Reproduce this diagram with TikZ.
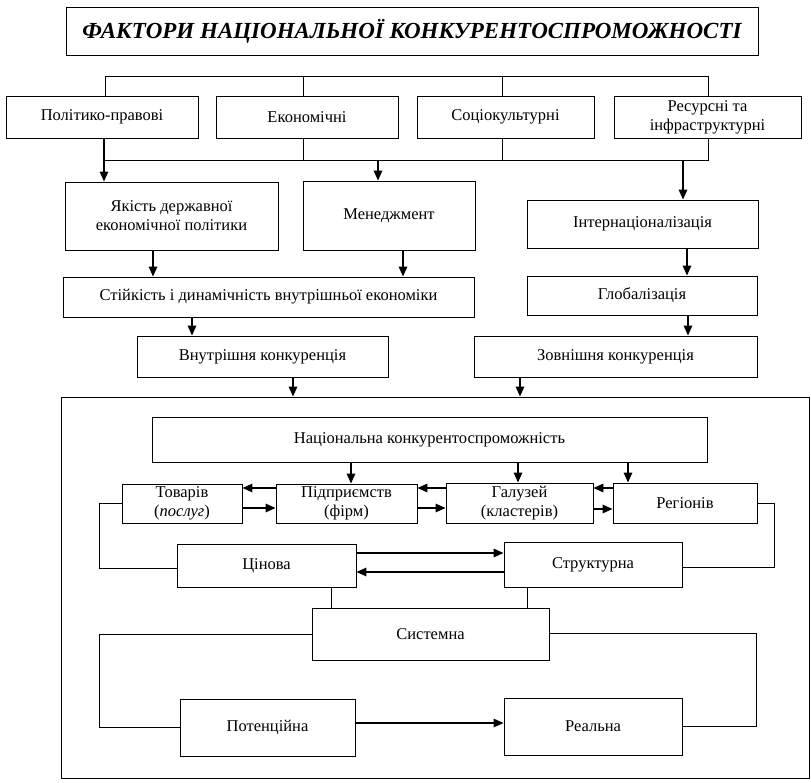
\documentclass[tikz,border=0pt]{standalone}
\usepackage{fontspec}
\setmainfont{Liberation Serif}
\usetikzlibrary{arrows.meta}
\tikzset{
  box/.style={draw, line width=0.9pt, inner sep=1pt, align=center,
    font=\fontsize{16.5}{19}\selectfont},
  link/.style={line width=0.8pt},
  flow/.style={line width=1.6pt, -{Triangle[length=10pt,width=8.5pt]}},
}
\begin{document}
\begin{tikzpicture}[x=1pt,y=-1pt]
\useasboundingbox (0,0) rectangle (811,782);

% title
\node[box, minimum width=692pt, minimum height=48pt,
  font=\fontsize{23}{26}\selectfont\bfseries\itshape] (title) at (412,31)
  {ФАКТОРИ НАЦІОНАЛЬНОЇ КОНКУРЕНТОСПРОМОЖНОСТІ};

% groups of factors
\node[box, minimum width=192pt, minimum height=42pt] (pol) at (102,117) {Політико-правові};
\node[box, minimum width=182pt, minimum height=42pt] (eco) at (307,117) {Економічні};
\node[box, minimum width=177pt, minimum height=42pt] (soc) at (505.5,117) {Соціокультурні};
\node[box, minimum width=187pt, minimum height=42pt] (res) at (707.5,117) {Ресурсні та\\інфраструктурні};

\node[box, minimum width=213pt, minimum height=68pt] (yak) at (171.5,216) {Якість державної\\економічної політики};
\node[box, minimum width=172pt, minimum height=69pt] (men) at (389,215.5) {Менеджмент};
\node[box, minimum width=231pt, minimum height=48pt] (int) at (642.5,224) {Інтернаціоналізація};

\node[box, minimum width=411pt, minimum height=40pt] (sti) at (268.5,297) {Стійкість і динамічність внутрішньої економіки};
\node[box, minimum width=230pt, minimum height=39pt] (glo) at (642,295.5) {Глобалізація};

\node[box, minimum width=251pt, minimum height=41pt] (vnu) at (262.5,356.5) {Внутрішня конкуренція};
\node[box, minimum width=283pt, minimum height=41pt] (zov) at (615.5,356.5) {Зовнішня конкуренція};

% frame of national competitiveness
\node[draw, line width=0.9pt, minimum width=748pt, minimum height=381pt, inner sep=0pt] (big) at (435,587.5) {};

\node[box, minimum width=555pt, minimum height=45pt] (nat) at (429.5,439.5) {Національна конкурентоспроможність};

\node[box, minimum width=120pt, minimum height=39pt] (tov) at (182,503.5) {Товарів\\(\textit{послуг})};
\node[box, minimum width=141pt, minimum height=39pt] (pid) at (346.5,503.5) {Підприємств\\(фірм)};
\node[box, minimum width=147pt, minimum height=40pt] (hal) at (519.5,503) {Галузей\\(кластерів)};
\node[box, minimum width=144pt, minimum height=40pt] (reg) at (685,503) {Регіонів};

\node[box, minimum width=179pt, minimum height=43pt] (cin) at (266.5,565.5) {Цінова};
\node[box, minimum width=178pt, minimum height=45pt] (str) at (593,564.5) {Структурна};
\node[box, minimum width=237pt, minimum height=52pt] (sys) at (430.5,634) {Системна};
\node[box, minimum width=175pt, minimum height=57pt] (pot) at (267.5,727.5) {Потенційна};
\node[box, minimum width=178pt, minimum height=57pt] (rea) at (593,726.5) {Реальна};

% upper bracket over the four groups
\coordinate (u1) at (105,76);
\coordinate (u2) at (303,76);
\coordinate (u3) at (502,76);
\coordinate (u4) at (708,76);
\draw[link] (pol.north -| u1) -- (u1) -- (u4) -- (res.north -| u4);
\draw[link] (eco.north -| u2) -- (u2);
\draw[link] (soc.north -| u3) -- (u3);

% lower bracket under the four groups
\coordinate (l1) at (104,160);
\coordinate (l2) at (303,160);
\coordinate (l3) at (502,160);
\coordinate (l4) at (708,160);
\coordinate (lm) at (378,160);
\coordinate (li) at (683,160);
\draw[link] (l1) -- (l4) -- (res.south -| l4);
\draw[link] (eco.south -| l2) -- (l2);
\draw[link] (soc.south -| l3) -- (l3);
\draw[flow] (pol.south -| l1) -- (yak.north -| l1);
\draw[flow] (lm) -- (men.north -| lm);
\draw[flow] (li) -- (int.north -| li);

% downward flow
\draw[flow] ([xshift=-18.5pt]yak.south) -- ([xshift=-18.5pt]yak.south |- sti.north);
\draw[flow] ([xshift=14pt]men.south) -- ([xshift=14pt]men.south |- sti.north);
\draw[flow] ([xshift=44.5pt]int.south) -- ([xshift=44.5pt]int.south |- glo.north);
\draw[flow] ([xshift=-76.5pt]sti.south) -- ([xshift=-76.5pt]sti.south |- vnu.north);
\draw[flow] ([xshift=46pt]glo.south) -- ([xshift=46pt]glo.south |- zov.north);
\draw[flow] ([xshift=30.5pt]vnu.south) -- ([xshift=30.5pt]vnu.south |- big.north);
\draw[flow] ([xshift=-95.5pt]zov.south) -- ([xshift=-95.5pt]zov.south |- big.north);

% national competitiveness to its levels
\draw[flow] ([xshift=-78.5pt]nat.south) -- ([xshift=-78.5pt]nat.south |- pid.north);
\draw[flow] ([xshift=88.5pt]nat.south) -- ([xshift=88.5pt]nat.south |- hal.north);
\draw[flow] ([xshift=198.5pt]nat.south) -- ([xshift=198.5pt]nat.south |- reg.north);

% links between levels
\draw[flow] ([yshift=15.5pt]pid.west) -- ([yshift=15.5pt]tov.east);
\draw[flow] ([yshift=-4.5pt]tov.east) -- ([yshift=-4.5pt]pid.west);
\draw[flow] ([yshift=15pt]hal.west) -- ([yshift=15.5pt]pid.east);
\draw[flow] ([yshift=-4.5pt]pid.east) -- ([yshift=-5pt]hal.west);
\draw[flow] ([yshift=15pt]reg.west) -- ([yshift=15pt]hal.east);
\draw[flow] ([yshift=-6pt]hal.east) -- ([yshift=-6pt]reg.west);

% side brackets
\coordinate (sl) at (99,0);
\coordinate (sr) at (774,0);
\draw[link] (tov.west) -- (tov.west -| sl) |- ([yshift=-2.5pt]cin.west);
\draw[link] (reg.east) -- (reg.east -| sr) |- ([yshift=-2.5pt]str.east);
\coordinate (bl) at (99,0);
\coordinate (br) at (756,0);
\draw[link] (sys.west) -- (sys.west -| bl) |- (pot.west);
\draw[link] ([yshift=1pt]sys.east) -- ([yshift=1pt]sys.east -| br) |- (rea.east);

% kinds of competitiveness
\draw[flow] ([yshift=12.5pt]cin.east) -- ([yshift=11.5pt]str.west);
\draw[flow] ([yshift=-7.5pt]str.west) -- ([yshift=-6.5pt]cin.east);
\draw[link] ([xshift=64.5pt]cin.south) -- ([xshift=64.5pt]cin.south |- sys.north);
\draw[link] ([xshift=-66pt]str.south) -- ([xshift=-66pt]str.south |- sys.north);
\draw[flow] ([yshift=4.5pt]pot.east) -- ([yshift=3.5pt]rea.west);
\end{tikzpicture}
\end{document}
